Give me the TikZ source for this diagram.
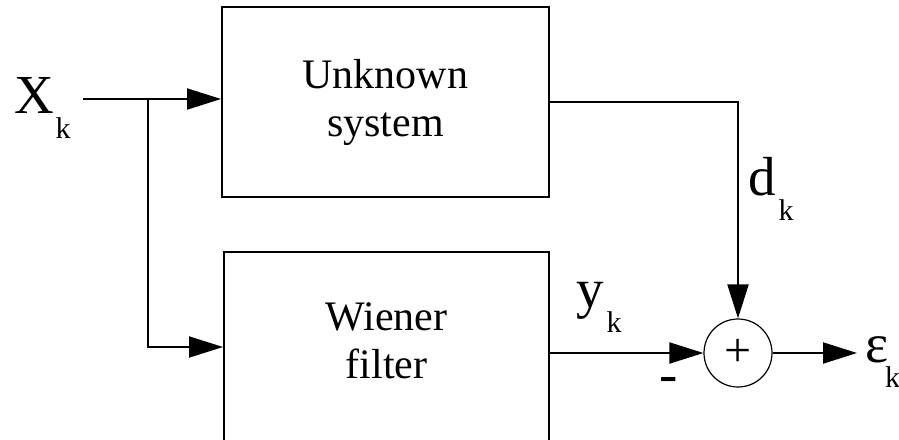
\documentclass[tikz,border=0pt]{standalone}
\usepackage{fontspec}
\setmainfont{Liberation Serif}
\usetikzlibrary{arrows.meta}
\newcommand\lblsub[1]{\raisebox{-25pt}{\fontsize{30}{30}\selectfont #1}}
\begin{document}
\begin{tikzpicture}[x=1pt,y=-1pt, line width=2pt,
  blk/.style={draw, line width=2pt, inner sep=0pt, align=center, font=\fontsize{42}{48}\selectfont},
  blktext/.style={inner sep=0pt, align=center, font=\fontsize{42}{48}\selectfont},
  arr/.style={-{Triangle[length=34pt,width=21pt]}},
  lbl/.style={inner sep=0pt, anchor=base west, font=\fontsize{55}{55}\selectfont}]
\useasboundingbox (0,0) rectangle (899,439);
\clip (0,0) rectangle (899,439);
\node[blk, minimum width=327pt, minimum height=190pt] (us) at (385.5,102) {Unknown\\system};
\node[blk, minimum width=325pt, minimum height=250pt] (wf) at (386.5,377) {};
\node[blktext] (wft) at (386.5,341) {Wiener\\filter};
\node[circle, draw, line width=1.2pt, minimum size=68pt, inner sep=0pt, font=\fontsize{48}{48}\selectfont] (sum) at (738,353) {+};
\coordinate (xin) at (83,99);
\coordinate (br) at (148,99);
\coordinate (bend) at (148,347);
\coordinate (eout) at (857,353);
\draw[arr] (xin) -- (xin -| us.west);
\draw[arr] (br) -- (bend) -- (bend -| wf.west);
\draw[arr] (us.east) -| (sum.north);
\draw[arr] (sum.west -| wf.east) -- (sum.west);
\draw[arr] (sum.east) -- (eout);
\node[lbl] (xk) at (13,113) {X\kern2pt\lblsub{k}};
\node[lbl] (dk) at (747,195) {d\kern3pt\lblsub{k}};
\node[lbl] (yk) at (575,307) {y\kern3pt\lblsub{k}};
\node[lbl] (ek) at (864,362) {ε\kern-3pt\lblsub{k}};
\node[inner sep=0pt, font=\fontsize{55}{55}\selectfont] (minus) at (669,385) {-};
\end{tikzpicture}
\end{document}
